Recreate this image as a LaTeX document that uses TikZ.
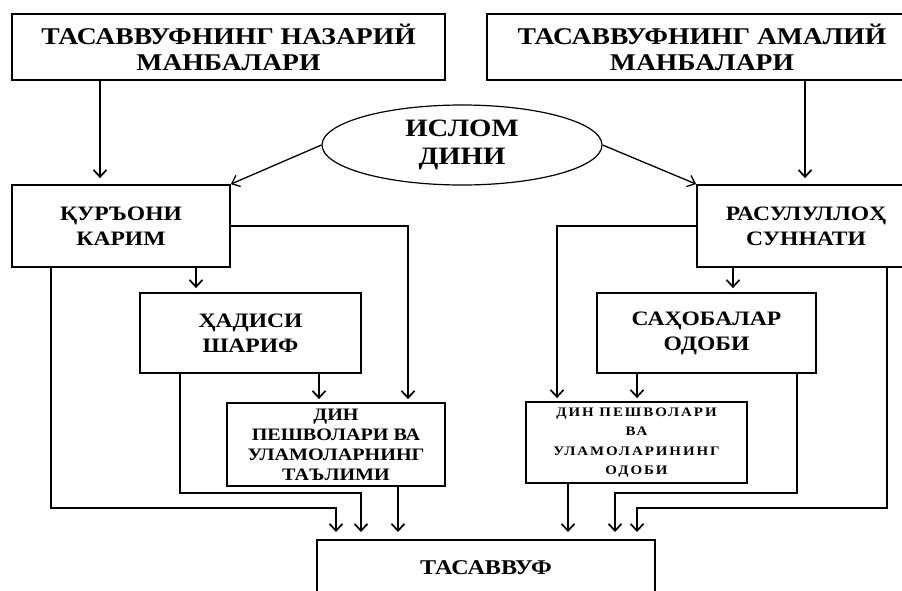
\documentclass[tikz,border=0pt]{standalone}
\usepackage{fontspec}
\setmainfont{Liberation Serif}
\newfontfamily\tf{Liberation Serif}[FakeStretch=1.15]
\newfontfamily\tfs{Liberation Serif}[FakeStretch=1.15,LetterSpace=15]
\usetikzlibrary{arrows.meta,shapes.geometric}
\begin{document}
\begin{tikzpicture}[x=1pt,y=-1pt,
  box/.style={draw,line width=1.8pt,rectangle,inner sep=0pt,align=center,font=\tf\bfseries},
  conn/.style={line width=1.7pt},
  arr/.style={conn,-{Straight Barb[length=7pt,width=13pt]}},
  thinarr/.style={line width=1.3pt,-{Straight Barb[length=7pt,width=12pt]}}]
\useasboundingbox (0,0) rectangle (902,590);
\clip (0,0) rectangle (902,590);
\fill[white] (0,0) rectangle (902,590);
% top boxes
\node[box,minimum width=433pt,minimum height=66pt,font=\tf\bfseries\fontsize{24}{26}\selectfont] (b1) at (228.5,47) {ТАСАВВУФНИНГ НАЗАРИЙ\\МАНБАЛАРИ};
\node[box,minimum width=430pt,minimum height=66pt,font=\tf\bfseries\fontsize{24}{26}\selectfont] (b2) at (702,47) {ТАСАВВУФНИНГ АМАЛИЙ\\МАНБАЛАРИ};
% ellipse
\node[draw,ellipse,line width=1.2pt,minimum width=280pt,minimum height=80pt,inner sep=0pt,align=center,font=\tf\bfseries\fontsize{25}{28}\selectfont] (ell) at (462,145) {ИСЛОМ\\ДИНИ};
% second level
\node[box,minimum width=218pt,minimum height=82pt,font=\tf\bfseries\fontsize{20.5}{25}\selectfont] (q) at (121,226) {ҚУРЪОНИ\\КАРИМ};
\node[box,minimum width=218pt,minimum height=82pt,font=\tf\bfseries\fontsize{20.5}{25}\selectfont] (r) at (806,226) {РАСУЛУЛЛОҲ\\СУННАТИ};
% third level
\node[box,minimum width=221pt,minimum height=80pt,font=\tf\bfseries\fontsize{20.5}{25}\selectfont] (h) at (250.5,333) {ҲАДИСИ\\ШАРИФ};
\node[box,minimum width=219pt,minimum height=80pt,font=\tf\bfseries\fontsize{20.5}{25}\selectfont] (s) at (706.5,333) {САҲОБАЛАР\\ОДОБИ};
% fourth level
\node[box,minimum width=218pt,minimum height=83pt,font=\tf\bfseries\fontsize{17.5}{20}\selectfont] (d1) at (336,444.5) {ДИН\\ПЕШВОЛАРИ ВА\\УЛАМОЛАРНИНГ\\ТАЪЛИМИ};
\node[box,minimum width=221pt,minimum height=81pt,font=\tfs\bfseries\fontsize{13}{19.5}\selectfont] (d2) at (636.5,442.5) {ДИН ПЕШВОЛАРИ\\ВА\\УЛАМОЛАРИНИНГ\\ОДОБИ};
% bottom
\node[box,anchor=north,minimum width=338pt,text height=16pt,text depth=47pt,inner ysep=19pt,font=\tf\bfseries\fontsize{21}{24}\selectfont] (t) at (486,539) {ТАСАВВУФ};
% x coordinates
\coordinate (x51) at (51,0);
\coordinate (x100) at (100,0);
\coordinate (x180) at (180,0);
\coordinate (x196) at (196,0);
\coordinate (x319) at (319,0);
\coordinate (x336) at (336,0);
\coordinate (x361) at (361,0);
\coordinate (x398) at (398,0);
\coordinate (x408) at (408,0);
\coordinate (x557) at (557,0);
\coordinate (x568) at (568,0);
\coordinate (x615) at (615,0);
\coordinate (x637) at (637,0);
\coordinate (x733) at (733,0);
\coordinate (x797) at (797,0);
\coordinate (x805) at (805,0);
\coordinate (x887) at (887,0);
\coordinate (y226) at (0,226);
\coordinate (y493) at (0,493);
\coordinate (y508) at (0,508);
% connectors top
\draw[arr,shorten >=6pt] (b1.south -| x100) -- (q.north -| x100);
\draw[arr,shorten >=6pt] (b2.south -| x805) -- (r.north -| x805);
\draw[thinarr] (ell.west) -- (q.north east);
\draw[thinarr] (ell.east) -- (r.north west);
% second to third
\draw[arr,shorten >=4pt] (q.south -| x196) -- (h.north -| x196);
\draw[arr,shorten >=4pt] (r.south -| x733) -- (s.north -| x733);
% to din boxes
\draw[arr,shorten >=3pt] (h.south -| x319) -- (d1.north -| x319);
\draw[arr,shorten >=3pt] (q.east |- y226) -| (d1.north -| x408);
\draw[arr,shorten >=3pt] (s.south -| x637) -- (d2.north -| x637);
\draw[arr,shorten >=3pt] (r.west |- y226) -| (d2.north -| x557);
% to tasavvuf
\draw[arr,shorten >=7pt] (q.south -| x51) |- (x336 |- y508) -- (t.north -| x336);
\draw[arr,shorten >=7pt] (h.south -| x180) |- (x361 |- y493) -- (t.north -| x361);
\draw[arr,shorten >=7pt] (d1.south -| x398) -- (t.north -| x398);
\draw[arr,shorten >=7pt] (d2.south -| x568) -- (t.north -| x568);
\draw[arr,shorten >=7pt] (s.south -| x797) |- (x615 |- y493) -- (t.north -| x615);
\draw[arr,shorten >=7pt] (r.south -| x887) |- (x637 |- y508) -- (t.north -| x637);
\end{tikzpicture}
\end{document}
